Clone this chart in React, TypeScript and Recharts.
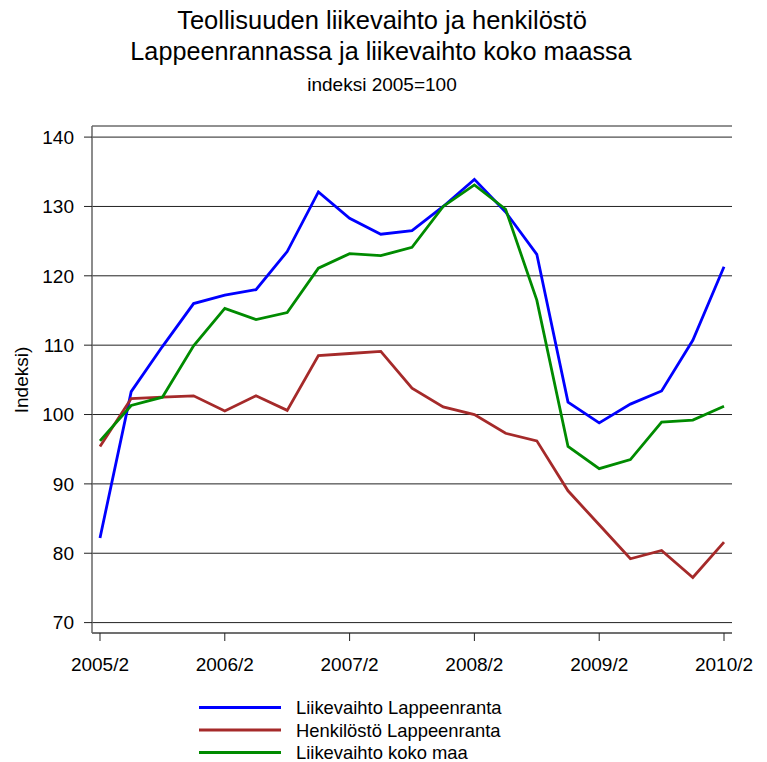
import React from 'react';
import { LineChart, Line, XAxis, YAxis, CartesianGrid } from 'recharts';

const quarters = [
  '2005/2', '2005/3', '2005/4', '2006/1', '2006/2', '2006/3', '2006/4',
  '2007/1', '2007/2', '2007/3', '2007/4', '2008/1', '2008/2', '2008/3',
  '2008/4', '2009/1', '2009/2', '2009/3', '2009/4', '2010/1', '2010/2',
];
const xTickIndexes = [0, 4, 8, 12, 16, 20];
const yTicks = [70, 80, 90, 100, 110, 120, 130, 140];

const liikevaihtoLappeenranta = [82.2, 103.3, 109.8, 116.0, 117.2, 118.0, 123.5, 132.1, 128.3, 126.0, 126.5, 130.0, 133.9, 129.2, 123.1, 101.8, 98.8, 101.5, 103.4, 110.7, 121.3];
const henkilostoLappeenranta = [95.4, 102.3, 102.5, 102.7, 100.5, 102.7, 100.6, 108.5, 108.8, 109.1, 103.8, 101.1, 100.0, 97.3, 96.2, 89.0, 84.1, 79.2, 80.4, 76.5, 81.6];
const liikevaihtoKokoMaa = [96.2, 101.3, 102.5, 109.9, 115.3, 113.7, 114.7, 121.1, 123.2, 122.9, 124.1, 130.0, 133.1, 129.6, 116.5, 95.4, 92.2, 93.5, 98.9, 99.2, 101.2];

const seriesNames = ['Liikevaihto Lappeenranta', 'Henkilöstö Lappeenranta', 'Liikevaihto koko maa'];
const seriesKeys = ['lvLpr', 'hlLpr', 'lvKoko'];
const seriesColors = ['#0000FF', '#A52A2A', '#008B00'];

const titleLines = ['Teollisuuden liikevaihto ja henkilöstö', 'Lappeenrannassa ja liikevaihto koko maassa'];
const subtitle = 'indeksi 2005=100';
const yLabel = 'Indeksi)';

const data = quarters.map((q, i) => ({
  i,
  q,
  lvLpr: liikevaihtoLappeenranta[i],
  hlLpr: henkilostoLappeenranta[i],
  lvKoko: liikevaihtoKokoMaa[i],
}));

const FONT = '"Liberation Sans", Arial, Helvetica, sans-serif';

export default function App() {
  return (
    <div style={{ position: 'absolute', left: 0, top: 0, width: 767, height: 762, background: '#fff', fontFamily: FONT }}>
      <svg width={767} height={130} style={{ position: 'absolute', left: 0, top: 0 }}>
        <text x={382} y={29} textAnchor="middle" fontSize={25.5} fontFamily={FONT} fill="#000">{titleLines[0]}</text>
        <text x={381} y={60} textAnchor="middle" fontSize={25.2} fontFamily={FONT} fill="#000">{titleLines[1]}</text>
        <text x={382} y={91} textAnchor="middle" fontSize={19} fontFamily={FONT} fill="#000">{subtitle}</text>
      </svg>
      <div style={{ position: 'absolute', left: 0, top: 0 }}>
        <LineChart
          width={767}
          height={762}
          data={data}
          margin={{ top: 126, right: 35, bottom: 89, left: 0 }}
        >
          <CartesianGrid vertical={false} stroke="#222" strokeWidth={1} />
          <XAxis
            dataKey="i"
            type="number"
            domain={[-0.256, 20.256]}
            ticks={xTickIndexes}
            tickFormatter={(v) => quarters[v]}
            height={40}
            tickSize={8}
            tickMargin={17}
            axisLine={{ stroke: '#666', strokeWidth: 1.5 }}
            tickLine={{ stroke: '#222' }}
            tick={{ fill: '#000', fontSize: 19, fontFamily: FONT }}
            allowDataOverflow
            interval={0}
          />
          <XAxis
            xAxisId="top"
            dataKey="i"
            type="number"
            orientation="top"
            domain={[-0.256, 20.256]}
            height={0}
            tick={false}
            tickLine={false}
            axisLine={{ stroke: '#666', strokeWidth: 1.5 }}
          />
          <YAxis
            type="number"
            domain={[68.5, 141.6]}
            ticks={yTicks}
            width={92}
            tickSize={8}
            tickMargin={10}
            axisLine={{ stroke: '#666', strokeWidth: 1.5 }}
            tickLine={{ stroke: '#222' }}
            tick={{ fill: '#000', fontSize: 19, fontFamily: FONT }}
            allowDataOverflow
            interval={0}
          />
          <YAxis
            yAxisId="right"
            orientation="right"
            type="number"
            domain={[68.5, 141.6]}
            width={0}
            tick={false}
            tickLine={false}
            axisLine={{ stroke: '#222', strokeWidth: 1.5 }}
          />
          {seriesKeys.map((k, idx) => (
            <Line
              key={k}
              dataKey={k}
              name={seriesNames[idx]}
              stroke={seriesColors[idx]}
              strokeWidth={2.8}
              dot={false}
              activeDot={false}
              type="linear"
              isAnimationActive={false}
            />
          ))}
        </LineChart>
      </div>
      <div
        style={{
          position: 'absolute',
          left: 21,
          top: 379.5,
          transform: 'translate(-50%, -50%) rotate(-90deg)',
          fontSize: 19,
          fontFamily: FONT,
          whiteSpace: 'nowrap',
          lineHeight: 1,
        }}
      >
        {yLabel}
      </div>
      <svg width={767} height={80} style={{ position: 'absolute', left: 0, top: 690 }}>
        {seriesNames.map((n, idx) => (
          <g key={n}>
            <line x1={199} x2={281} y1={17.5 + idx * 22.5} y2={17.5 + idx * 22.5} stroke={seriesColors[idx]} strokeWidth={3} />
            <text x={296} y={17.5 + idx * 22.5} dy="0.36em" fontSize={18.4} fontFamily={FONT} fill="#000">{n}</text>
          </g>
        ))}
      </svg>
    </div>
  );
}
